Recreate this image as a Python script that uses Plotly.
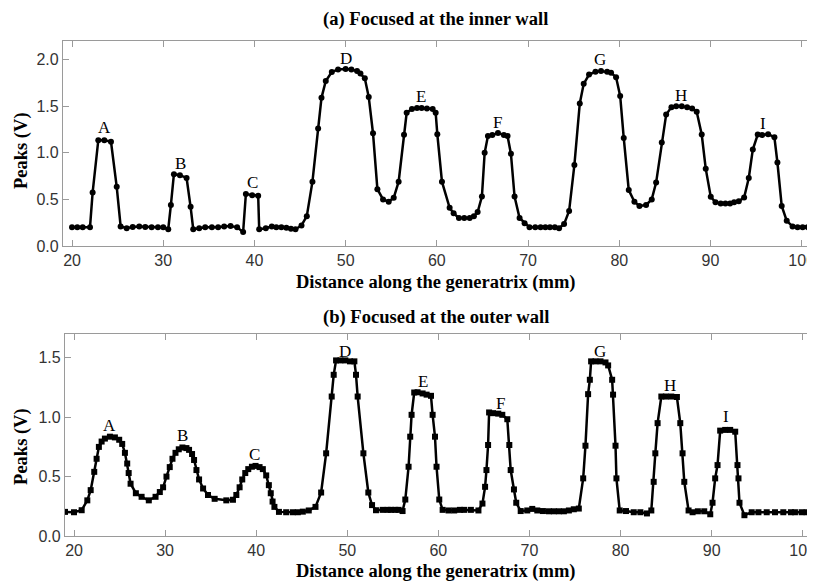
import plotly.graph_objects as go

# (a) Focused at the inner wall
xa = [20.0, 20.58, 21.17, 21.97, 22.26, 22.88, 23.54, 24.27, 24.9, 25.33, 25.99, 26.65, 27.37, 28.03,
      28.73, 29.42, 30.0, 30.55, 30.84, 31.17, 31.83, 32.56, 33.0, 33.29, 33.94, 34.6, 35.33, 36.02,
      36.68, 37.38, 38.1, 38.76, 39.06, 39.75, 40.41, 40.52, 41.25, 41.9, 42.4, 42.95, 43.5, 44.0,
      44.5, 45.16, 45.74, 46.36, 46.98, 47.35, 47.82, 48.48, 49.17, 50.0, 50.63, 51.25, 51.62, 52.1,
      52.53, 53.0, 53.48, 54.1, 54.72, 55.27, 55.81, 56.4, 56.69, 57.27, 57.82, 58.33, 58.91, 59.54,
      59.87, 60.05, 60.56, 61.4, 61.84, 62.42, 63.0, 63.6, 64.06, 64.47, 64.94, 65.24, 65.6, 66.08,
      66.7, 67.35, 67.75, 68.12, 68.52, 69.07, 69.62, 70.16, 70.79, 71.37, 71.9, 72.4, 72.93, 73.4,
      73.95, 74.5, 75.08, 75.67, 76.1, 76.69, 77.39, 78.0, 78.67, 79.1, 79.65, 80.1, 80.49, 81.04,
      81.66, 82.21, 82.94, 83.56, 84.04, 84.66, 85.14, 85.72, 86.24, 86.85, 87.44, 87.99, 88.49,
      89.04, 89.48, 90.03, 90.55, 91.12, 91.64, 92.15, 92.59, 93.1, 93.69, 94.2, 94.64, 95.18,
      95.66, 96.32, 97.01, 97.34, 97.81, 98.36, 99.0, 99.55, 100.1, 100.64, 101.2]
ya = [0.2, 0.2, 0.2, 0.2, 0.575, 1.135, 1.135, 1.12, 0.635, 0.21, 0.19, 0.205, 0.21, 0.205,
      0.2, 0.2, 0.2, 0.18, 0.44, 0.77, 0.76, 0.73, 0.42, 0.18, 0.19, 0.2, 0.2, 0.2,
      0.21, 0.215, 0.2, 0.15, 0.557, 0.545, 0.54, 0.18, 0.19, 0.21, 0.2, 0.2, 0.195, 0.185,
      0.18, 0.22, 0.32, 0.69, 1.26, 1.59, 1.77, 1.866, 1.895, 1.9, 1.895, 1.877, 1.85, 1.8,
      1.6, 1.21, 0.61, 0.5, 0.475, 0.517, 0.69, 1.195, 1.43, 1.47, 1.48, 1.48, 1.475, 1.47,
      1.43, 1.2, 0.69, 0.41, 0.35, 0.3, 0.3, 0.3, 0.32, 0.364, 0.53, 1.0, 1.18, 1.19,
      1.213, 1.19, 1.18, 0.99, 0.53, 0.3, 0.245, 0.2, 0.2, 0.2, 0.2, 0.2, 0.2, 0.19,
      0.235, 0.375, 0.87, 1.53, 1.74, 1.84, 1.87, 1.877, 1.87, 1.86, 1.81, 1.61, 1.16, 0.6,
      0.475, 0.43, 0.44, 0.5, 0.68, 1.11, 1.41, 1.49, 1.5, 1.5, 1.49, 1.475, 1.44,
      1.196, 0.83, 0.528, 0.468, 0.455, 0.455, 0.455, 0.468, 0.48, 0.52, 0.73, 1.035, 1.196,
      1.19, 1.2, 1.167, 0.896, 0.43, 0.27, 0.21, 0.2, 0.2, 0.2, 0.2]

# (b) Focused at the outer wall
xb = [19.01, 20.0, 20.84, 21.46, 21.83, 22.22, 22.48, 22.73, 23.03, 23.39, 23.94, 24.49, 24.96,
      25.29, 25.59, 25.84, 26.0, 26.21, 26.79, 27.42, 28.21, 28.95, 29.42, 29.78, 30.15, 30.51,
      30.81, 31.14, 31.5, 31.9, 32.34, 32.63, 32.96, 33.18, 33.44, 33.73, 34.17, 34.71, 35.44,
      36.72, 37.45, 37.82, 38.18, 38.47, 38.8, 39.13, 39.53, 39.93, 40.37, 40.73, 41.1, 41.39,
      41.6, 41.8, 42.0, 42.5, 43.29, 44.02, 44.57, 45.12, 45.77, 46.51, 47.13, 47.68, 48.29,
      48.51, 48.77, 49.24, 49.79, 50.3, 50.78, 50.96, 51.14, 51.77, 52.31, 52.72, 53.15, 53.88,
      54.43, 54.8, 55.27, 55.64, 56.07, 56.37, 56.73, 56.91, 57.06, 57.35, 57.72, 58.27, 58.71,
      59.19, 59.37, 59.63, 59.8, 60.1, 60.47, 61.12, 61.74, 62.37, 62.84, 63.57, 64.4, 64.84,
      65.13, 65.28, 65.46, 65.57, 66.0, 66.58, 67.02, 67.57, 67.79, 67.94, 68.3, 68.55, 69.04,
      69.76, 70.31, 70.86, 71.48, 72.14, 72.68, 73.23, 73.78, 74.33, 74.87, 75.42, 75.9, 76.15,
      76.44, 76.63, 76.77, 77.25, 77.8, 78.35, 78.64, 79.08, 79.18, 79.45, 79.55, 79.91, 80.6,
      81.45, 82.18, 82.9, 83.38, 83.64, 83.82, 84.07, 84.48, 84.98, 85.57, 86.19, 86.56, 86.81,
      87.0, 87.47, 87.91, 88.49, 89.19, 89.85, 90.1, 90.39, 90.65, 90.94, 91.49, 92.04, 92.59,
      92.84, 92.95, 93.06, 93.6, 94.4, 95.14, 96.05, 96.96, 97.87, 98.71, 99.15, 99.88, 100.43,
      100.98]
yb = [0.203, 0.2, 0.217, 0.3, 0.386, 0.54, 0.65, 0.75, 0.795, 0.82, 0.836, 0.83, 0.81,
      0.775, 0.7, 0.61, 0.53, 0.44, 0.36, 0.33, 0.3, 0.33, 0.37, 0.41, 0.5, 0.58,
      0.65, 0.7, 0.73, 0.745, 0.74, 0.725, 0.69, 0.64, 0.555, 0.476, 0.4, 0.345, 0.313,
      0.3, 0.305, 0.345, 0.41, 0.476, 0.53, 0.563, 0.583, 0.59, 0.58, 0.563, 0.51, 0.428,
      0.36, 0.29, 0.245, 0.203, 0.2, 0.2, 0.2, 0.205, 0.215, 0.245, 0.366, 0.696, 1.174,
      1.357, 1.478, 1.478, 1.478, 1.47, 1.47, 1.357, 1.174, 0.696, 0.366, 0.26, 0.217, 0.22,
      0.22, 0.22, 0.22, 0.22, 0.21, 0.307, 0.583, 0.836, 1.02, 1.208, 1.21, 1.2, 1.19,
      1.18, 1.02, 0.836, 0.583, 0.307, 0.22, 0.215, 0.215, 0.22, 0.22, 0.22, 0.215, 0.273,
      0.414, 0.555, 0.766, 1.04, 1.034, 1.03, 1.02, 0.983, 0.766, 0.555, 0.392, 0.28, 0.21,
      0.215, 0.228, 0.215, 0.21, 0.208, 0.208, 0.208, 0.208, 0.215, 0.225, 0.231, 0.485, 0.76,
      1.194, 1.315, 1.47, 1.47, 1.47, 1.461, 1.436, 1.315, 1.19, 0.76, 0.485, 0.215, 0.21,
      0.2, 0.2, 0.19, 0.215, 0.456, 0.696, 0.95, 1.174, 1.174, 1.174, 1.17, 0.95, 0.696,
      0.456, 0.215, 0.2, 0.208, 0.208, 0.183, 0.28, 0.485, 0.597, 0.887, 0.893, 0.893, 0.878,
      0.597, 0.485, 0.28, 0.175, 0.2, 0.2, 0.2, 0.2, 0.2, 0.2, 0.2, 0.2, 0.2,
      0.2]

labels = ["A", "B", "C", "D", "E", "F", "G", "H", "I"]
lab_xa = [23.54, 31.94, 39.75, 50.0, 58.22, 66.7, 77.9, 86.77, 95.8]
lab_ya = [1.27, 0.885, 0.68, 2.01, 1.6, 1.33, 2.0, 1.62, 1.31]
lab_xb = [23.94, 31.9, 39.82, 49.79, 58.26, 66.84, 77.7, 85.46, 91.6]
lab_yb = [0.927, 0.842, 0.69, 1.554, 1.3, 1.118, 1.554, 1.264, 1.005]
x_ticks = [20, 30, 40, 50, 60, 70, 80, 90, 100]
ya_ticks = [0, 0.5, 1.0, 1.5, 2.0]
yb_ticks = [0, 0.5, 1.0, 1.5]

SERIF = "Liberation Serif, Times New Roman, serif"
SANS = "Liberation Sans, Arial, sans-serif"
GRAY = "#9a9a9a"

fig = go.Figure()
fig.add_trace(go.Scatter(x=xa, y=ya, mode="lines+markers", xaxis="x", yaxis="y",
                         line=dict(color="black", width=2.5),
                         marker=dict(symbol="circle", size=6, color="black"), showlegend=False))
fig.add_trace(go.Scatter(x=xb, y=yb, mode="lines+markers", xaxis="x2", yaxis="y2",
                         line=dict(color="black", width=2.5),
                         marker=dict(symbol="square", size=6, color="black"), showlegend=False))

ax_common = dict(showline=True, linecolor=GRAY, linewidth=1.2, mirror="ticks", ticks="inside",
                 ticklen=6, tickcolor=GRAY, tickwidth=1.2, showgrid=False, zeroline=False,
                 automargin=False, ticklabeloverflow="allow",
                 tickfont=dict(family=SANS, size=16, color="#333333"))

annotations = []
for t, x, y in zip(labels, lab_xa, lab_ya):
    annotations.append(dict(text=t, x=x, y=y, xref="x", yref="y", showarrow=False,
                            font=dict(family=SERIF, size=17, color="black")))
for t, x, y in zip(labels, lab_xb, lab_yb):
    annotations.append(dict(text=t, x=x, y=y, xref="x2", yref="y2", showarrow=False,
                            font=dict(family=SERIF, size=17, color="black")))

tfont = dict(family=SERIF, size=18.6, color="black")
afont = dict(family=SERIF, size=18.5, color="black")
annotations += [
    dict(text="<b>(a) Focused at the inner wall</b>", x=0.496, y=1.0444, xref="paper", yref="paper",
         showarrow=False, font=tfont, xanchor="center", yanchor="middle"),
    dict(text="<b>(b) Focused at the outer wall</b>", x=0.496, y=0.4424, xref="paper", yref="paper",
         showarrow=False, font=tfont, xanchor="center", yanchor="middle"),
    dict(text="<b>Distance along the generatrix (mm)</b>", x=0.496, y=0.513, xref="paper",
         yref="paper", showarrow=False, font=afont, xanchor="center", yanchor="middle"),
    dict(text="<b>Distance along the generatrix (mm)</b>", x=0.496, y=-0.0727, xref="paper",
         yref="paper", showarrow=False, font=afont, xanchor="center", yanchor="middle"),
    dict(text="<b>Peaks (V)</b>", x=-0.0545, y=0.7778, xref="paper", yref="paper", textangle=-90,
         showarrow=False, font=afont, xanchor="center", yanchor="middle"),
    dict(text="<b>Peaks (V)</b>", x=-0.0545, y=0.18, xref="paper", yref="paper", textangle=-90,
         showarrow=False, font=afont, xanchor="center", yanchor="middle"),
]

# The page body adds an 8px offset, so the figure is 8px smaller than the window.
fig.update_layout(
    width=807, height=573,
    margin=dict(l=55, r=0, t=33, b=45, autoexpand=False),
    paper_bgcolor="white", plot_bgcolor="white",
    xaxis=dict(domain=[0, 1], range=[19.01, 101.46], anchor="y", tickvals=x_ticks, **ax_common),
    yaxis=dict(domain=[0.5859, 1], range=[0, 2.2], anchor="x", tickvals=ya_ticks,
               tickformat=".1f", **ax_common),
    xaxis2=dict(domain=[2 / 752, 1], range=[19.01, 101.35], anchor="y2", tickvals=x_ticks,
                **ax_common),
    yaxis2=dict(domain=[0, 0.408], range=[0, 1.7], anchor="x2", tickvals=yb_ticks,
                tickformat=".1f", **ax_common),
    annotations=annotations,
)

fig.write_html("out.html")
